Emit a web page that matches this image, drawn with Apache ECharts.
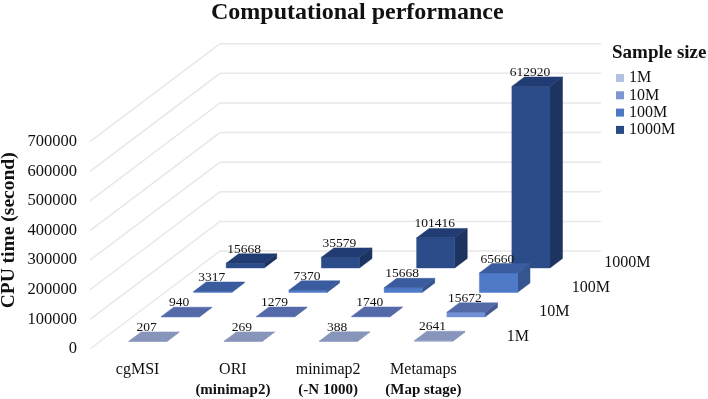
<!DOCTYPE html>
<html>
<head>
<meta charset="utf-8">
<style>html,body{margin:0;padding:0;background:#fff}#c{width:708px;height:399px}</style>
<script src="https://cdn.jsdelivr.net/npm/echarts@6/dist/echarts.min.js"></script>
</head>
<body>
<div id="c"></div>
<script>
const categories = ['cgMSI', 'ORI', 'minimap2', 'Metamaps'];
const subLabels = ['', '(minimap2)', '(-N 1000)', '(Map stage)'];
const sampleSizes = ['1M', '10M', '100M', '1000M'];
const values1M = [207, 269, 388, 2641];
const values10M = [940, 1279, 1740, 15672];
const values100M = [3317, 7370, 15668, 65660];
const values1000M = [15668, 35579, 101416, 612920];
const yTicks = [0, 100000, 200000, 300000, 400000, 500000, 600000, 700000];

const legendColors = ['#b3c1e3', '#7e95d3', '#4e77c4', '#2a4a85'];
const frontColors = ['#a6b3d6', '#7090d8', '#4f7ac8', '#2b4c88'];
const topColors = ['#8795bb', '#5469a8', '#3a5c9f', '#203c72'];
const sideColors = ['#7080a8', '#46598f', '#34558f', '#1d3460'];

const SERIF = '"Liberation Serif", "Times New Roman", serif';
const DX = 32.5, DY = -24.5;          // screen offset of one depth row
const BAR_FRAC = 0.4;                 // bar width as a share of the category band
const DEPTH_START = 0.31, DEPTH_FRAC = 0.385;

function bandOf(api) {
  return api.coord([1, 0])[0] - api.coord([0, 0])[0];
}

function poly(points, fill) {
  return { type: 'polygon', shape: { points }, style: { fill, stroke: fill, lineWidth: 0.5 } };
}

function barRender(row) {
  return function (params, api) {
    const cat = api.value(0), val = api.value(1);
    const base = api.coord([cat, 0]);
    const top = api.coord([cat, val]);
    const w = bandOf(api) * BAR_FRAC;
    const d0 = row + DEPTH_START;
    const x0 = base[0] - w / 2 + DX * d0;
    const y0 = base[1] + DY * d0;
    const yt = y0 - (base[1] - top[1]);
    const bx = DX * DEPTH_FRAC, by = DY * DEPTH_FRAC;
    return {
      type: 'group',
      children: [
        poly([[x0 + w, y0], [x0 + w + bx, y0 + by], [x0 + w + bx, yt + by], [x0 + w, yt]], sideColors[row]),
        poly([[x0, y0], [x0 + w, y0], [x0 + w, yt], [x0, yt]], frontColors[row]),
        poly([[x0, yt], [x0 + w, yt], [x0 + w + bx, yt + by], [x0 + bx, yt + by]], topColors[row]),
        {
          type: 'text', z2: 20,
          style: {
            text: String(val), x: x0 + w / 2 - 1, y: yt - 14,
            align: 'center', verticalAlign: 'middle',
            fill: '#111', font: '13.5px ' + SERIF
          }
        }
      ]
    };
  };
}

function barSeries(name, values, row) {
  return {
    name, type: 'custom', coordinateSystem: 'cartesian2d',
    data: values.map((v, i) => [i, v]),
    encode: { x: 0, y: 1 },
    itemStyle: { color: legendColors[row] },
    renderItem: barRender(row), silent: true, animation: false, z: 5 + (3 - row)
  };
}

const gridSeries = {
  name: 'walls', type: 'custom', coordinateSystem: 'cartesian2d',
  data: yTicks.map(v => [0, v]),
  encode: { y: 1 },
  silent: true, animation: false, z: 1,
  renderItem(params, api) {
    const p = api.coord([0, api.value(1)]);
    const band = bandOf(api);
    const x = p[0] - band / 2;
    const y = p[1];
    const bx = x + DX * sampleSizes.length, by = y + DY * sampleSizes.length;
    return {
      type: 'polyline',
      shape: { points: [[x, y], [bx, by], [bx + band * categories.length, by]] },
      style: { stroke: '#e8e8e8', lineWidth: 1.5, fill: null }
    };
  }
};

const depthSeries = {
  name: 'depth', type: 'custom', coordinateSystem: 'cartesian2d',
  data: sampleSizes.map((s, i) => [3, i, s]),
  encode: { x: 0 },
  silent: true, animation: false, z: 2,
  renderItem(params, api) {
    const row = api.value(1);
    const p = api.coord([3, 0]);
    return {
      type: 'text',
      style: {
        text: sampleSizes[row],
        x: p[0] + bandOf(api) / 2 + DX * (row + 0.5) + 19.5,
        y: p[1] + DY * (row + 0.5),
        align: 'left', verticalAlign: 'middle',
        fill: '#111', font: '16px ' + SERIF
      }
    };
  }
};

const chart = echarts.init(document.getElementById('c'), null, { renderer: 'canvas' });
chart.setOption({
  animation: false,
  backgroundColor: '#fff',
  title: [
    { text: 'Computational performance', left: 211, top: 1, padding: 0,
      textStyle: { fontFamily: SERIF, fontSize: 24, fontWeight: 'bold', color: '#111' } },
    { text: 'Sample size', left: 612, top: 44, padding: 0,
      textStyle: { fontFamily: SERIF, fontSize: 19, fontWeight: 'bold', color: '#111' } }
  ],
  legend: {
    orient: 'vertical', left: 616, top: 70, padding: 0,
    data: sampleSizes, itemWidth: 8, itemHeight: 8, itemGap: 1.3,
    icon: 'rect', selectedMode: false,
    textStyle: { fontFamily: SERIF, fontSize: 16, color: '#111' }
  },
  grid: { left: 90, top: 141.7, width: 381, height: 207.3, outerBoundsMode: 'none' },
  xAxis: {
    type: 'category', data: categories,
    axisLine: { show: false }, axisTick: { show: false }, splitLine: { show: false },
    axisLabel: {
      margin: 11, interval: 0, color: '#111',
      formatter: (v, i) => '{a|' + v + '}' + (subLabels[i] ? '\n{b|' + subLabels[i] + '}' : ''),
      rich: {
        a: { fontFamily: SERIF, fontSize: 16, lineHeight: 20, color: '#111' },
        b: { fontFamily: SERIF, fontSize: 15, fontWeight: 'bold', lineHeight: 20, color: '#111' }
      }
    }
  },
  yAxis: {
    type: 'value', min: 0, max: 700000, interval: 100000,
    name: 'CPU time (second)', nameLocation: 'middle', nameGap: 71, nameRotate: 90, nameMoveOverlap: false,
    nameTextStyle: { fontFamily: SERIF, fontSize: 19.5, fontWeight: 'bold', color: '#111', padding: [0, 0, 0, 30] },
    axisLine: { show: false }, axisTick: { show: false }, splitLine: { show: false },
    axisLabel: { margin: 13, color: '#111', fontFamily: SERIF, fontSize: 16.5, formatter: v => String(v) }
  },
  series: [
    gridSeries,
    depthSeries,
    barSeries('1000M', values1000M, 3),
    barSeries('100M', values100M, 2),
    barSeries('10M', values10M, 1),
    barSeries('1M', values1M, 0)
  ]
});
</script>
</body>
</html>
